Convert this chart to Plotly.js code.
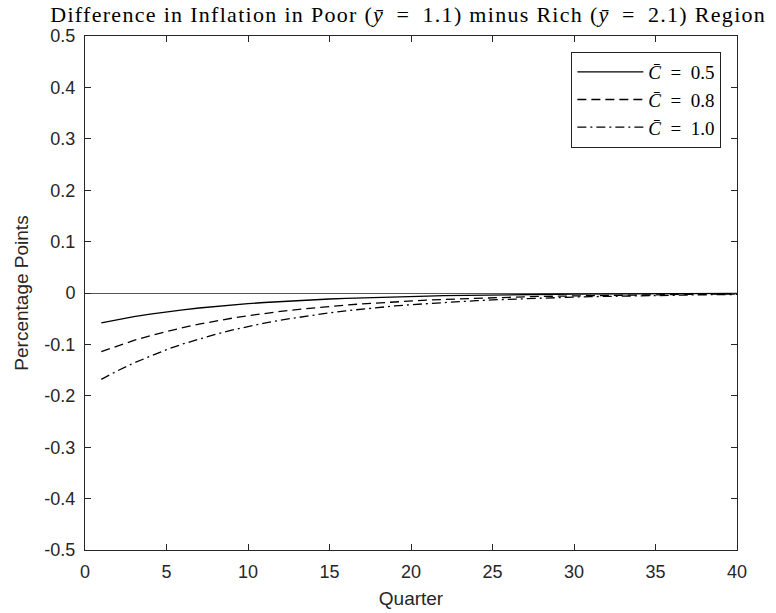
<!DOCTYPE html>
<html>
<head>
<meta charset="utf-8">
<script src="https://cdn.plot.ly/plotly-3.0.1.min.js"></script>
<style>
  html, body { margin: 0; padding: 0; background: #fff; }
  #chart { width: 776px; height: 613px; }
  /* wider tracking so the serif title reads like typeset math text */
  #chart .gtitle { letter-spacing: 1.3px; }
</style>
</head>
<body>
<div id="chart"></div>
<script>
// Quarters after the shock
const quarters = [1,2,3,4,5,6,7,8,9,10,11,12,13,14,15,16,17,18,19,20,
                  21,22,23,24,25,26,27,28,29,30,31,32,33,34,35,36,37,38,39,40];

// Inflation difference, poor minus rich region (percentage points)
const diffC05 = [-0.0580,-0.0517,-0.0461,-0.0412,-0.0367,-0.0328,-0.0292,-0.0261,-0.0232,-0.0207,
                 -0.0185,-0.0165,-0.0147,-0.0131,-0.0117,-0.0104,-0.0093,-0.0083,-0.0074,-0.0066,
                 -0.0059,-0.0053,-0.0047,-0.0042,-0.0037,-0.0033,-0.0030,-0.0026,-0.0024,-0.0021,
                 -0.0019,-0.0017,-0.0015,-0.0013,-0.0012,-0.0011,-0.0009,-0.0008,-0.0008,-0.0007];
const diffC08 = [-0.1140,-0.1026,-0.0923,-0.0831,-0.0748,-0.0673,-0.0606,-0.0545,-0.0491,-0.0442,
                 -0.0397,-0.0358,-0.0322,-0.0290,-0.0261,-0.0235,-0.0211,-0.0190,-0.0171,-0.0154,
                 -0.0139,-0.0125,-0.0112,-0.0101,-0.0091,-0.0082,-0.0074,-0.0066,-0.0060,-0.0054,
                 -0.0048,-0.0044,-0.0039,-0.0035,-0.0032,-0.0029,-0.0026,-0.0023,-0.0021,-0.0019];
const diffC10 = [-0.1680,-0.1512,-0.1361,-0.1225,-0.1102,-0.0992,-0.0893,-0.0804,-0.0723,-0.0651,
                 -0.0586,-0.0527,-0.0475,-0.0427,-0.0385,-0.0346,-0.0311,-0.0280,-0.0252,-0.0227,
                 -0.0204,-0.0184,-0.0166,-0.0149,-0.0134,-0.0121,-0.0109,-0.0098,-0.0088,-0.0079,
                 -0.0071,-0.0064,-0.0058,-0.0052,-0.0047,-0.0042,-0.0038,-0.0034,-0.0031,-0.0028];

const seriesNames = ['<i>C̄</i>\u2002=\u20020.5', '<i>C̄</i>\u2002=\u20020.8', '<i>C̄</i>\u2002=\u20021.0'];
const xTicks = [0,5,10,15,20,25,30,35,40];
const yTicks = [-0.5,-0.4,-0.3,-0.2,-0.1,0,0.1,0.2,0.3,0.4,0.5];
const yTickText = ['-0.5','-0.4','-0.3','-0.2','-0.1','0','0.1','0.2','0.3','0.4','0.5'];

const axisColor = '#262626';
const sansFamily = 'Liberation Sans, Arial, sans-serif';
const serifFamily = 'Liberation Serif, Times New Roman, serif';
const tickFont = {family: sansFamily, size: 18, color: axisColor};
const labelFont = {family: sansFamily, size: 19, color: axisColor};

const traces = [
  {x: quarters, y: diffC05, name: seriesNames[0], mode: 'lines',
   line: {color: '#000', width: 1.3, dash: 'solid'}},
  {x: quarters, y: diffC08, name: seriesNames[1], mode: 'lines',
   line: {color: '#000', width: 1.3, dash: '9px,5px'}},
  {x: quarters, y: diffC10, name: seriesNames[2], mode: 'lines',
   line: {color: '#000', width: 1.3, dash: '9px,4px,2px,4px'}}
];

const layout = {
  width: 776, height: 613,
  margin: {l: 85, r: 39, t: 36, b: 63},
  paper_bgcolor: '#fff', plot_bgcolor: '#fff',
  showlegend: true,
  title: {
    text: 'Difference in Inflation in Poor (<i>ȳ</i>\u2002=\u20021.1) minus Rich (<i>ȳ</i>\u2002=\u20022.1) Region',
    font: {family: serifFamily, size: 22, color: '#000'},
    x: 0.526, xref: 'container', xanchor: 'center',
    y: 0.976, yref: 'container', yanchor: 'middle'
  },
  xaxis: {
    range: [0, 40], tickvals: xTicks, ticks: 'inside', ticklen: 6, tickwidth: 1,
    tickcolor: axisColor, showline: true, linecolor: axisColor, linewidth: 1, mirror: 'ticks',
    showgrid: false, zeroline: false, tickfont: tickFont, ticklabelstandoff: 5,
    title: {text: 'Quarter', font: labelFont, standoff: 11}
  },
  yaxis: {
    range: [-0.5, 0.5], tickvals: yTicks, ticktext: yTickText, ticks: 'inside', ticklen: 6, tickwidth: 1,
    tickcolor: axisColor, showline: true, linecolor: axisColor, linewidth: 1, mirror: 'ticks',
    showgrid: false, zeroline: true, zerolinecolor: '#555', zerolinewidth: 1, tickfont: tickFont,
    ticklabelstandoff: 5,
    title: {text: 'Percentage Points', font: labelFont, standoff: 10}
  },
  legend: {
    x: 0.976, xanchor: 'right', y: 0.969, yanchor: 'top',
    bgcolor: '#fff', bordercolor: '#222', borderwidth: 1,
    itemwidth: 66, tracegroupgap: 0,
    font: {family: serifFamily, size: 19, color: '#000'}
  }
};

Plotly.newPlot('chart', traces, layout, {displayModeBar: false, staticPlot: true});
</script>
</body>
</html>
